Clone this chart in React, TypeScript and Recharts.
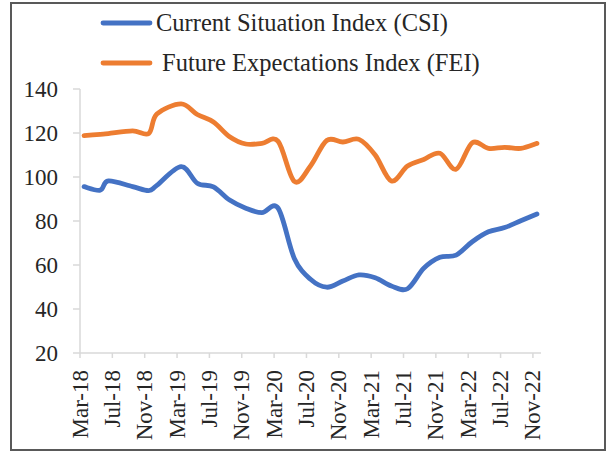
import React from "react";
import { LineChart, Line, XAxis, YAxis } from "recharts";

// survey rounds (bi-monthly, quarterly in early 2018)
const surveyRounds = [
  "Mar-18", "May-18", "Jun-18", "Sep-18", "Nov-18", "Dec-18",
  "Mar-19", "May-19", "Jul-19", "Sep-19", "Nov-19", "Jan-20",
  "Mar-20", "May-20", "Jul-20", "Sep-20", "Nov-20", "Jan-21",
  "Mar-21", "May-21", "Jul-21", "Sep-21", "Nov-21", "Jan-22",
  "Mar-22", "May-22", "Jul-22", "Sep-22", "Nov-22",
];

const csiValues = [
  95.6, 94.0, 98.2, 95.6, 93.8, 96.2,
  104.7, 97.2, 95.5, 89.5, 85.8, 83.8,
  85.8, 63.0, 53.5, 49.9, 52.7, 55.5,
  54.2, 50.5, 49.2, 58.5, 63.5, 64.5,
  70.6, 75.1, 77.0, 80.1, 83.2,
];

const feiValues = [
  118.8, 119.4, 119.7, 121.0, 119.8, 128.6,
  133.2, 128.4, 125.0, 118.3, 115.0, 115.3,
  116.2, 98.0, 105.0, 116.6, 115.9, 117.1,
  110.0, 98.2, 105.0, 108.0, 110.8, 103.5,
  115.6, 113.0, 113.5, 113.0, 115.3,
];

const xTickLabels = [
  "Mar-18", "Jul-18", "Nov-18", "Mar-19", "Jul-19", "Nov-19", "Mar-20",
  "Jul-20", "Nov-20", "Mar-21", "Jul-21", "Nov-21", "Mar-22", "Jul-22", "Nov-22",
];

const yTicks = [20, 40, 60, 80, 100, 120, 140];

const seriesNames = ["Current Situation Index (CSI)", "Future Expectations Index (FEI)"];
const seriesColors = ["#4472C4", "#ED7D31"];

const MONTHS = ["Jan", "Feb", "Mar", "Apr", "May", "Jun", "Jul", "Aug", "Sep", "Oct", "Nov", "Dec"];
const FONT = "'Liberation Serif', 'Times New Roman', serif";

// months since Mar-18
const monthIndex = (label: string) => {
  const [mon, yy] = label.split("-");
  return (Number(yy) - 18) * 12 + MONTHS.indexOf(mon) - 2;
};

// excel places a dated point mid-month
const chartData = surveyRounds.map((r, i) => ({
  m: monthIndex(r) + 0.5,
  round: r,
  csi: csiValues[i],
  fei: feiValues[i],
}));

const xTicks = xTickLabels.map(monthIndex);
const lastTick = xTicks[xTicks.length - 1] + 1;

// smoothed line similar to excel (catmull-rom style bezier)
const excelCurve = (context: any) => {
  let pts: number[][] = [];
  return {
    areaStart() {},
    areaEnd() {},
    lineStart() {
      pts = [];
    },
    lineEnd() {
      if (!pts.length) return;
      context.moveTo(pts[0][0], pts[0][1]);
      for (let i = 0; i < pts.length - 1; i++) {
        const p0 = pts[i - 1] || pts[i];
        const p1 = pts[i];
        const p2 = pts[i + 1];
        const p3 = pts[i + 2] || p2;
        context.bezierCurveTo(
          p1[0] + (p2[0] - p0[0]) / 6,
          p1[1] + (p2[1] - p0[1]) / 6,
          p2[0] - (p3[0] - p1[0]) / 6,
          p2[1] - (p3[1] - p1[1]) / 6,
          p2[0],
          p2[1],
        );
      }
    },
    point(x: number, y: number) {
      pts.push([+x, +y]);
    },
  };
};

const XTick = (props: any) => {
  const { x, y, payload } = props;
  const label = xTickLabels[xTicks.indexOf(payload.value)] ?? "";
  return (
    <text
      x={x}
      y={y}
      transform={`rotate(-90, ${x}, ${y})`}
      textAnchor="end"
      dy="0.33em"
      fontSize={23}
      fontFamily={FONT}
      fill="#262626"
    >
      {label}
    </text>
  );
};

export default function App() {
  return (
    <div
      style={{
        position: "absolute",
        left: 0,
        top: 0,
        width: 608,
        height: 452,
        background: "#fff",
      }}
    >
      <div
        style={{
          position: "absolute",
          left: 10,
          top: 2,
          width: 596,
          height: 449,
          boxSizing: "border-box",
          border: "2px solid #595959",
        }}
      />
      <LineChart
        width={608}
        height={452}
        data={chartData}
        margin={{ top: 89, right: 67, left: 0, bottom: 4 }}
      >
        <XAxis
          dataKey="m"
          type="number"
          domain={[0, lastTick]}
          ticks={xTicks}
          interval={0}
          height={95}
          axisLine={{ stroke: "#d9d9d9", strokeWidth: 1.5 }}
          tickLine={{ stroke: "#d9d9d9", strokeWidth: 1.5 }}
          tickSize={5}
          tickMargin={12}
          tick={<XTick />}
        />
        <YAxis
          domain={[20, 140]}
          ticks={yTicks}
          interval={0}
          width={80}
          axisLine={{ stroke: "#d9d9d9", strokeWidth: 1.5 }}
          tickLine={{ stroke: "#d9d9d9", strokeWidth: 1.5 }}
          tickSize={7}
          tickMargin={15}
          tick={{ fontSize: 23, fontFamily: FONT, fill: "#262626" }}
        />
        <Line
          dataKey="csi"
          name={seriesNames[0]}
          type={excelCurve as any}
          stroke={seriesColors[0]}
          strokeWidth={4.8}
          strokeLinecap="round"
          strokeLinejoin="round"
          dot={false}
          activeDot={false}
          isAnimationActive={false}
        />
        <Line
          dataKey="fei"
          name={seriesNames[1]}
          type={excelCurve as any}
          stroke={seriesColors[1]}
          strokeWidth={4.8}
          strokeLinecap="round"
          strokeLinejoin="round"
          dot={false}
          activeDot={false}
          isAnimationActive={false}
        />
      </LineChart>
      <svg
        width={608}
        height={90}
        style={{ position: "absolute", left: 0, top: 0 }}
      >
        {seriesNames.map((name, i) => (
          <g key={name}>
            <line
              x1={103}
              x2={150}
              y1={23 + i * 40}
              y2={23 + i * 40}
              stroke={seriesColors[i]}
              strokeWidth={4.8}
              strokeLinecap="round"
            />
            <text
              x={i === 0 ? 156 : 162}
              y={31 + i * 40}
              fontSize={24.5}
              fontFamily={FONT}
              fill="#262626"
            >
              {name}
            </text>
          </g>
        ))}
      </svg>
    </div>
  );
}
